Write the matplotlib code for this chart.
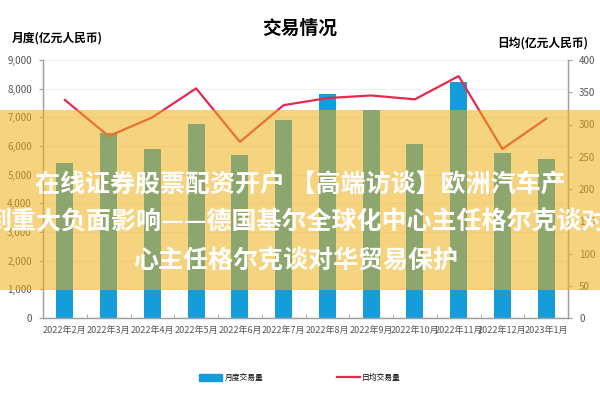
import numpy as np
import matplotlib
matplotlib.use("Agg")
import matplotlib.pyplot as plt
from matplotlib.patches import Rectangle, Patch
from matplotlib.lines import Line2D
from matplotlib.ticker import FuncFormatter

plt.rcParams['font.family'] = ['Noto Sans CJK SC', 'DejaVu Sans']

# dati
months = ['2022年2月', '2022年3月', '2022年4月', '2022年5月', '2022年6月', '2022年7月',
          '2022年8月', '2022年9月', '2022年10月', '2022年11月', '2022年12月', '2023年1月']
monthly = [5410, 6470, 5890, 6760, 5700, 6900, 7830, 7240, 6060, 8250, 5740, 5530]
daily = [338, 282, 311, 356, 273, 330, 341, 345, 339, 375, 262, 309]

overlay_lines = ['在线证券股票配资开户 【高端访谈】欧洲汽车产',
                 '到重大负面影响——德国基尔全球化中心主任格尔克谈对',
                 '心主任格尔克谈对华贸易保护']

blue = '#159cdb'
red = '#e5294e'
grey = '#a0a0a0'
tick_col = '#555555'

fig = plt.figure(figsize=(6, 4), dpi=100)
ax = fig.add_axes([43/600, 1-318/400, 525/600, 258/400])
ax2 = ax.twinx()

x = np.arange(len(months))
ax.bar(x, monthly, width=0.39, color=blue, zorder=2)
ax2.plot(x, daily, color=red, lw=1.6, zorder=3)

ax.set_xlim(-0.5, len(months) - 0.5)
ax.set_ylim(0, 9000)
ax.set_yticks(np.arange(0, 9001, 1000))
ax.yaxis.set_major_formatter(FuncFormatter(lambda v, p: f'{int(v):,}'))
ax2.set_ylim(0, 400)
ax2.set_yticks(np.arange(0, 401, 50))

ax.set_xticks(x)
ax.set_xticklabels(months, fontsize=6.5, color=tick_col)
ax.set_xticks(np.arange(-0.5, len(months), 1), minor=True)
ax.tick_params(axis='x', which='major', length=0, pad=6)
ax.tick_params(axis='x', which='minor', length=3, color=grey, direction='in')
ax.tick_params(axis='y', length=3, color=grey, labelsize=7, labelcolor=tick_col, pad=5)
ax2.tick_params(axis='y', length=3, color=grey, labelsize=7, labelcolor=tick_col, pad=5)

ax.grid(axis='y', color='#f0f0f0', lw=0.8, zorder=0)
ax.set_axisbelow(True)
for a in (ax, ax2):
    a.spines['top'].set_visible(False)
    for s in ('left', 'right', 'bottom'):
        a.spines[s].set_color(grey)
        a.spines[s].set_linewidth(0.9)

fig.text(0.5, 1-28/400, '交易情况', ha='center', va='center', fontsize=13.5, fontweight='bold')
fig.text(12/600, 1-38/400, '月度(亿元人民币)', ha='left', va='center', fontsize=8.5, fontweight='bold')
fig.text(588/600, 1-43/400, '日均(亿元人民币)', ha='right', va='center', fontsize=8.5, fontweight='bold')

handles = [Patch(color=blue, label='月度交易量'), Line2D([], [], color=red, lw=1.6, label='日均交易量')]
fig.legend(handles=handles, loc='center', bbox_to_anchor=(0.5, 1-378/400), ncol=2, frameon=False,
           fontsize=5.6, handlelength=2.9, handleheight=0.9, columnspacing=9.5, handletextpad=0.3)

# banda gialla sovrapposta
fig.patches.append(Rectangle((0, 1-290/400), 1, 180/400, transform=fig.transFigure,
                             facecolor=(240/255, 175/255, 20/255), alpha=0.55, edgecolor='none', zorder=5))
fig.text(0.5, 1-185/400, overlay_lines[0], ha='center', va='center', fontsize=18,
         fontweight='bold', color='white', zorder=6)
fig.text(-13/600, 1-222/400, overlay_lines[1], ha='left', va='center', fontsize=18,
         fontweight='bold', color='white', zorder=6)
fig.text(133/600, 1-262/400, overlay_lines[2], ha='left', va='center', fontsize=18,
         fontweight='bold', color='white', zorder=6)

fig.savefig('out.png', dpi=100)
